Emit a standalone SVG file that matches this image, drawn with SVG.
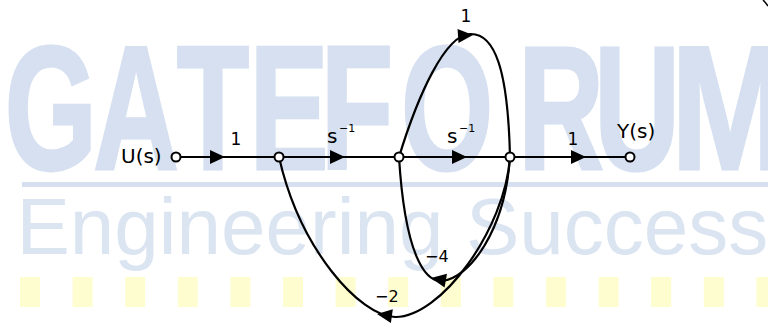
<svg xmlns="http://www.w3.org/2000/svg" width="768" height="323" viewBox="0 0 768 323">
<style>
.wm{fill:#d6e0f0}
.wmt{fill:#d6e0f0;stroke:#d6e0f0;stroke-width:3;font-family:"Liberation Sans",Arial,sans-serif;font-weight:bold;font-size:177px;text-anchor:middle}
.wm2{fill:#dbe4f1;font-family:"Liberation Sans",Arial,sans-serif;font-size:80px}
.yl{fill:#fefdcf}
.edge{fill:none;stroke:#000;stroke-width:2.2}
.node circle{fill:#fff;stroke:#000;stroke-width:2}
.lbl{font-family:"DejaVu Sans",Verdana,sans-serif;fill:#000}
.head{fill:#000}
</style>
<defs>
<path id="ah" d="M0,0 L-15,-7 L-15,7 Z"/>
</defs>
<rect width="768" height="323" fill="#fff"/>
<g id="watermark">
<text class="wmt" transform="scale(0.67,1)" x="76.1 203 317.9 431.3 532.8 667.2 837.3 950.7" y="169">GATEFORU</text>
<text class="wmt" transform="scale(0.8,1)" x="912.5" y="169">M</text>
<rect class="wm" x="22" y="182" width="746" height="5"/>
<text class="wm2" x="16.5" y="254">Engineering</text>
<text class="wm2" x="466" y="254">Success</text>
<g class="yl">
<rect x="20" y="277" width="20" height="30"/>
<rect x="72.6" y="277" width="20" height="30"/>
<rect x="125.2" y="277" width="20" height="30"/>
<rect x="177.8" y="277" width="20" height="30"/>
<rect x="230.4" y="277" width="20" height="30"/>
<rect x="283" y="277" width="20" height="30"/>
<rect x="335.6" y="277" width="20" height="30"/>
<rect x="388.2" y="277" width="20" height="30"/>
<rect x="440.8" y="277" width="20" height="30"/>
<rect x="493.4" y="277" width="20" height="30"/>
<rect x="546" y="277" width="20" height="30"/>
<rect x="598.6" y="277" width="20" height="30"/>
<rect x="651.2" y="277" width="20" height="30"/>
<rect x="703.8" y="277" width="20" height="30"/>
<rect x="756.4" y="277" width="20" height="30"/>
</g>
</g>
<path d="M763,0 Q766,3 768,6" fill="none" stroke="#000" stroke-width="1.5"/>
<g id="connectors">
<path class="edge" d="M176,157 L279,157"/>
<path class="edge" d="M279,157 L399,157"/>
<path class="edge" d="M399,157 L510,157"/>
<path class="edge" d="M510,157 L630,157"/>
<path class="edge" d="M399,157 C418,95 445,35 470,34 C495,33 508,70 510,157"/>
<path class="edge" d="M510,157 C505,230 470,278 442,281 C425,282 405,255 399,157"/>
<path class="edge" d="M510,157 C505,230 440,318 395,317 C360,316 300,250 279,157"/>
<use class="head" href="#ah" transform="translate(225,157)"/>
<use class="head" href="#ah" transform="translate(345,157)"/>
<use class="head" href="#ah" transform="translate(467,157)"/>
<use class="head" href="#ah" transform="translate(586,157)"/>
<use class="head" href="#ah" transform="translate(473,35) rotate(-4)"/>
<use class="head" href="#ah" transform="translate(431,278) rotate(190)"/>
<use class="head" href="#ah" transform="translate(377,314) rotate(188)"/>
</g>
<g id="node-U" class="node"><circle cx="176" cy="157" r="4.5"/></g>
<g id="node-2" class="node"><circle cx="279" cy="157" r="4.5"/></g>
<g id="node-3" class="node"><circle cx="399" cy="157" r="4.5"/></g>
<g id="node-4" class="node"><circle cx="510" cy="157" r="4.5"/></g>
<g id="node-Y" class="node"><circle cx="630" cy="157" r="4.5"/></g>
<g id="labels" class="lbl">
<text x="121" y="163" font-size="20">U(s)</text>
<text x="617" y="138" font-size="20">Y(s)</text>
<text x="236" y="145" font-size="17" text-anchor="middle">1</text>
<text x="573" y="145" font-size="17" text-anchor="middle">1</text>
<text x="466" y="22" font-size="17" text-anchor="middle">1</text>
<text x="327" y="143" font-size="20">s</text>
<text x="339" y="132" font-size="11">−1</text>
<text x="447" y="143" font-size="20">s</text>
<text x="459" y="132" font-size="11">−1</text>
<text x="425" y="262" font-size="16">−4</text>
<text x="375" y="302" font-size="16">−2</text>
</g>
</svg>
